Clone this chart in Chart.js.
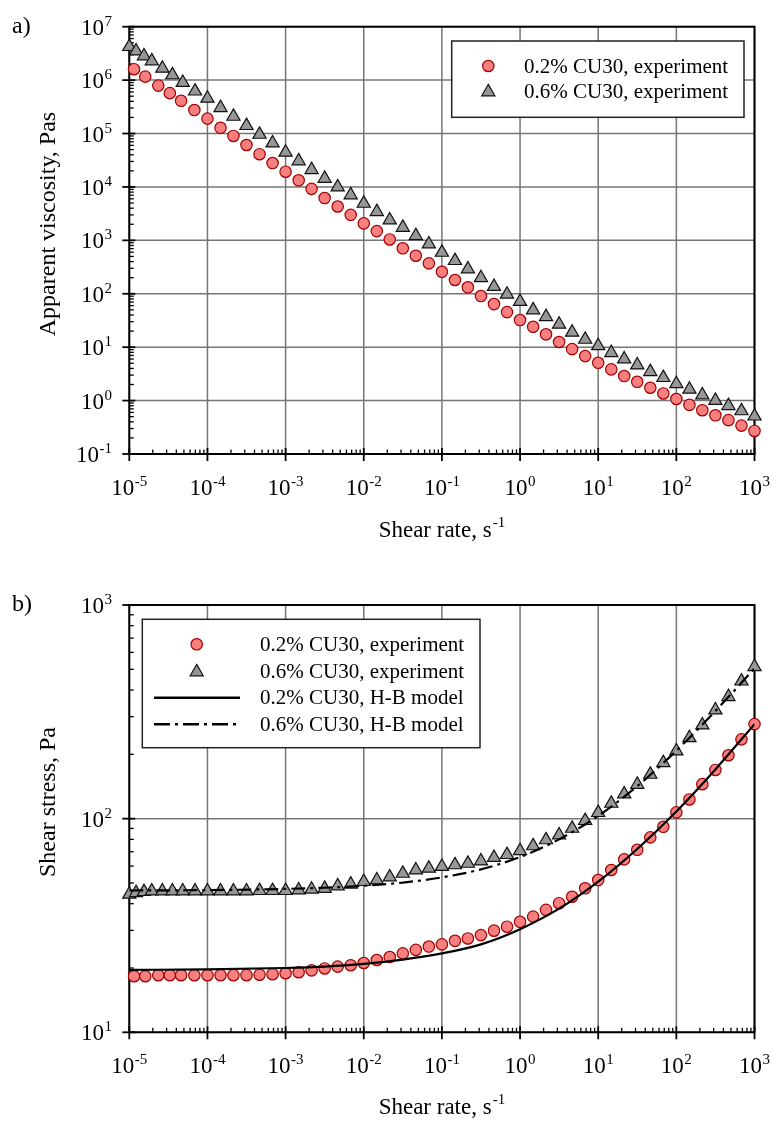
<!DOCTYPE html>
<html><head><meta charset="utf-8">
<script src="https://cdn.jsdelivr.net/npm/chart.js@4.4.1/dist/chart.umd.min.js"></script>
<style>html,body{margin:0;padding:0;background:#fff}
canvas{position:absolute;left:0;display:block}</style></head>
<body>
<canvas id="ca" width="773" height="560" style="top:0"></canvas>
<canvas id="cb" width="773" height="562" style="top:560px"></canvas>
<script>
// ---------- data ----------
const rateCircle = [1.15e-5,1.6e-5,2.35e-5,3.3e-5,4.6e-5,6.8e-5,
  1e-4,1.47e-4,2.15e-4,3.16e-4,4.64e-4,6.81e-4,
  1e-3,1.47e-3,2.15e-3,3.16e-3,4.64e-3,6.81e-3,
  1e-2,1.47e-2,2.15e-2,3.16e-2,4.64e-2,6.81e-2,
  1e-1,1.47e-1,2.15e-1,3.16e-1,4.64e-1,6.81e-1,
  1,1.47,2.15,3.16,4.64,6.81,
  10,14.7,21.5,31.6,46.4,68.1,
  100,147,215,316,464,681,
  1000];
const rateTriangle = [1e-5,1.22e-5,1.54e-5,1.94e-5,2.65e-5,3.56e-5,4.83e-5,6.94e-5,
  1e-4,1.47e-4,2.15e-4,3.16e-4,4.64e-4,6.81e-4,
  1e-3,1.47e-3,2.15e-3,3.16e-3,4.64e-3,6.81e-3,
  1e-2,1.47e-2,2.15e-2,3.16e-2,4.64e-2,6.81e-2,
  1e-1,1.47e-1,2.15e-1,3.16e-1,4.64e-1,6.81e-1,
  1,1.47,2.15,3.16,4.64,6.81,
  10,14.7,21.5,31.6,46.4,68.1,
  100,147,215,316,464,681,
  1000];
const viscCircle = [1.6e6,1.16e6,7.9e5,5.7e5,4.1e5,2.75e5,
  1.9e5,1.28e5,9.0e4,6.1e4,4.1e4,2.8e4,
  1.93e4,1.33e4,9.2e3,6.2e3,4.3e3,3.0e3,
  2.08e3,1.49e3,1.04e3,710,515,371,
  258,181,132,90.6,64.1,45.4,
  32.2,24.1,17.4,12.5,9.2,6.8,
  5.1,3.84,2.88,2.25,1.74,1.36,
  1.07,0.83,0.66,0.53,0.43,0.34,
  0.27];
const viscTriangle = [4.22e6,3.5e6,2.83e6,2.28e6,1.66e6,1.25e6,9.0e5,6.2e5,
  4.55e5,3.04e5,2.09e5,1.40e5,9.6e4,6.6e4,
  4.43e4,3.06e4,2.10e4,1.44e4,9.95e3,7.07e3,
  4.91e3,3.43e3,2.40e3,1.74e3,1.22e3,853,
  593,416,290,199,136,97.7,
  71.1,49.7,37.1,26.7,18.9,13.95,
  10.6,7.86,5.99,4.62,3.47,2.68,
  2.06,1.62,1.27,1.0,0.80,0.64,
  0.51];
const stressCircle = [18.3,18.3,18.5,18.5,18.5,18.5,
  18.5,18.5,18.5,18.5,18.6,18.7,
  18.9,19.1,19.5,19.9,20.3,20.6,
  21.1,21.8,22.5,23.4,24.3,25.2,
  25.8,26.8,27.5,28.5,29.9,31.2,
  32.9,34.8,37.4,40.2,43.1,47.2,
  51.6,57.5,64.5,71.5,81.7,91.6,
  107,123,145,169,198,235,
  277];
const stressTriangle = [44.2,45.0,45.5,45.8,45.8,45.8,45.8,45.8,
  45.8,45.8,45.8,45.8,46.0,46.0,
  46.0,46.3,46.7,47.1,48.4,49.3,
  50.7,51.6,53.3,55.4,57.4,58.5,
  59.6,60.7,61.7,63.3,65.7,67.8,
  70.7,74.5,79.5,83.8,90.0,97.8,
  106.6,117.8,130.3,144.5,161,182.7,
  207,239,274,322,372,440,
  514];
const hbRate = [1e-5,1e-4,1e-3,3.16e-3,1e-2,3.16e-2,0.1,0.316,1,3.16,10,31.6,100,316,1000];
const hb02 = [19.6,19.7,20.0,20.3,20.9,21.9,23.4,25.8,30.4,37.9,50.7,72.1,108,170,277];
const hb06 = [46.1,46.3,46.9,47.5,48.5,50.2,53.1,57.9,66.1,80,103,142,208,319,505];

const xTickExp = [-5,-4,-3,-2,-1,0,1,2,3];
const yTickExpA = [-1,0,1,2,3,4,5,6,7];
const yTickExpB = [1,2,3];

const seriesNames = ['0.2% CU30, experiment','0.6% CU30, experiment','0.2% CU30, H-B model','0.6% CU30, H-B model'];
const xTitle = 'Shear rate, s';
const xTitleSup = '-1';
const yTitleA = 'Apparent viscosity, Pas';
const yTitleB = 'Shear stress, Pa';

// ---------- styling ----------
const SERIF = '"Liberation Serif","Times New Roman",Times,serif';
const C_FILL = '#F77F7F', C_EDGE = '#A00000';
const T_FILL = '#979797', T_EDGE = '#111111';
const R_C = 5.7, R_T = 7.6;
const TICK_PX = 23, SUP_PX = 15;

function pts(xs, ys){ return xs.map((x,i)=>({x:x, y:ys[i]})); }

function drawCircle(ctx,x,y){ ctx.beginPath(); ctx.arc(x,y,R_C,0,Math.PI*2); ctx.fillStyle=C_FILL; ctx.fill(); ctx.lineWidth=1.2; ctx.strokeStyle=C_EDGE; ctx.stroke(); }
function drawTri(ctx,x,y){ const r=R_T; ctx.beginPath(); ctx.moveTo(x,y-r); ctx.lineTo(x+0.866*r,y+0.5*r); ctx.lineTo(x-0.866*r,y+0.5*r); ctx.closePath(); ctx.fillStyle=T_FILL; ctx.fill(); ctx.lineWidth=1.2; ctx.strokeStyle=T_EDGE; ctx.stroke(); }

function powLabel(ctx, exp, x, y, align){
  const b='10', s=String(exp);
  ctx.font=TICK_PX+'px '+SERIF; const wb=ctx.measureText(b).width;
  ctx.font=SUP_PX+'px '+SERIF; const ws=ctx.measureText(s).width;
  const tot=wb+ws+0.5;
  const x0 = align==='center' ? x-tot/2 : x-tot;
  ctx.fillStyle='#000'; ctx.textAlign='left'; ctx.textBaseline='alphabetic';
  ctx.font=TICK_PX+'px '+SERIF; ctx.fillText(b,x0,y);
  ctx.font=SUP_PX+'px '+SERIF; ctx.fillText(s,x0+wb+0.5,y-9);
}

const deco = {
  id:'deco',
  beforeDatasetsDraw(chart, args, o){
    const ctx=chart.ctx, a=chart.chartArea, X=chart.scales.x, Y=chart.scales.y;
    ctx.save();
    ctx.strokeStyle='#767676'; ctx.lineWidth=1.5;
    o.xExp.forEach(e=>{ const p=X.getPixelForValue(Math.pow(10,e)); ctx.beginPath(); ctx.moveTo(p,a.top); ctx.lineTo(p,a.bottom); ctx.stroke(); });
    o.yExp.forEach(e=>{ const p=Y.getPixelForValue(Math.pow(10,e)); ctx.beginPath(); ctx.moveTo(a.left,p); ctx.lineTo(a.right,p); ctx.stroke(); });
    ctx.strokeStyle='#000'; ctx.lineWidth=1.3;
    for(let i=0;i<o.xExp.length-1;i++){ for(let k=2;k<=9;k++){ const p=X.getPixelForValue(k*Math.pow(10,o.xExp[i])); ctx.beginPath(); ctx.moveTo(p,a.bottom); ctx.lineTo(p,a.bottom-4.5); ctx.stroke(); } }
    for(let i=0;i<o.yExp.length-1;i++){ for(let k=2;k<=9;k++){ const p=Y.getPixelForValue(k*Math.pow(10,o.yExp[i])); ctx.beginPath(); ctx.moveTo(a.left,p); ctx.lineTo(a.left+4.5,p); ctx.stroke(); } }
    ctx.lineWidth=1.8;
    o.xExp.forEach(e=>{ const p=X.getPixelForValue(Math.pow(10,e)); ctx.beginPath(); ctx.moveTo(p,a.bottom-6); ctx.lineTo(p,a.bottom+7); ctx.stroke(); });
    o.yExp.forEach(e=>{ const p=Y.getPixelForValue(Math.pow(10,e)); ctx.beginPath(); ctx.moveTo(a.left-7,p); ctx.lineTo(a.left+6,p); ctx.stroke(); });
    ctx.lineWidth=2; ctx.strokeStyle='#000';
    ctx.strokeRect(a.left,a.top,a.right-a.left,a.bottom-a.top);
    ctx.restore();
  },
  afterDatasetsDraw(chart, args, o){
    const ctx=chart.ctx, a=chart.chartArea, X=chart.scales.x, Y=chart.scales.y;
    ctx.save();
    o.xExp.forEach(e=>{ powLabel(ctx,e,X.getPixelForValue(Math.pow(10,e)),a.bottom+41,'center'); });
    o.yExp.forEach(e=>{ powLabel(ctx,e,112,Y.getPixelForValue(Math.pow(10,e))+8,'right'); });
    ctx.fillStyle='#000'; ctx.textBaseline='alphabetic'; ctx.textAlign='left';
    ctx.font='23px '+SERIF; const w1=ctx.measureText(xTitle).width;
    ctx.font='15px '+SERIF; const w2=ctx.measureText(xTitleSup).width;
    const cx=(a.left+a.right)/2, x0=cx-(w1+w2+1)/2;
    ctx.font='23px '+SERIF; ctx.fillText(xTitle,x0,o.xTitleY);
    ctx.font='15px '+SERIF; ctx.fillText(xTitleSup,x0+w1+1,o.xTitleY-10);
    ctx.save(); ctx.translate(55,o.yTitleY); ctx.rotate(-Math.PI/2);
    ctx.font='24px '+SERIF; ctx.textAlign='center'; ctx.fillText(o.yTitle,0,0); ctx.restore();
    ctx.font='24px '+SERIF; ctx.textAlign='left'; ctx.fillText(o.panel,12,o.panelY);
    const L=o.legend, b=L.box;
    ctx.fillStyle='#fff'; ctx.fillRect(b[0],b[1],b[2]-b[0],b[3]-b[1]);
    ctx.strokeStyle='#222'; ctx.lineWidth=1.5; ctx.strokeRect(b[0],b[1],b[2]-b[0],b[3]-b[1]);
    L.rows.forEach(r=>{
      if(r.type==='circle') drawCircle(ctx,L.markerX,r.y);
      else if(r.type==='tri') drawTri(ctx,L.markerX,r.y+1);
      else { ctx.beginPath(); ctx.strokeStyle='#000'; ctx.lineWidth=2.5; ctx.setLineDash(r.type==='dashdot'?[16,5,3,5]:[]); ctx.moveTo(L.lineX[0],r.y); ctx.lineTo(L.lineX[1],r.y); ctx.stroke(); ctx.setLineDash([]); }
      ctx.fillStyle='#000'; ctx.font='21px '+SERIF; ctx.textAlign='left'; ctx.textBaseline='middle';
      ctx.fillText(r.text,L.textX,r.y+1);
    });
    ctx.restore();
  }
};

function scaleOpts(min,max,fit){
  return {type:'logarithmic',min:min,max:max,grid:{display:false},border:{display:false},ticks:{display:false},afterFit:fit};
}

const circleDS = (data)=>({label:seriesNames[0],data:data,showLine:false,pointStyle:'circle',pointRadius:R_C,pointBackgroundColor:C_FILL,pointBorderColor:C_EDGE,pointBorderWidth:1.2,clip:false,order:2});
const triDS = (data)=>({label:seriesNames[1],data:data,showLine:false,pointStyle:'triangle',pointRadius:R_T,pointBackgroundColor:T_FILL,pointBorderColor:T_EDGE,pointBorderWidth:1.2,clip:false,order:1});

new Chart(document.getElementById('ca'),{
  type:'scatter',
  data:{datasets:[circleDS(pts(rateCircle,viscCircle)),triDS(pts(rateTriangle,viscTriangle))]},
  options:{responsive:false,animation:false,events:[],
    layout:{padding:{top:26.7,right:18.5,left:0,bottom:0}},
    scales:{x:scaleOpts(1e-5,1e3,s=>{s.height=106;}),y:scaleOpts(0.1,1e7,s=>{s.width=129.3;})},
    plugins:{legend:{display:false},tooltip:{enabled:false},
      deco:{xExp:xTickExp,yExp:yTickExpA,xTitleY:537,yTitle:yTitleA,yTitleY:224,panel:'a)',panelY:33,
        legend:{box:[451.7,41,744,117.3],markerX:488.3,textX:524,rows:[{type:'circle',y:66,text:seriesNames[0]},{type:'tri',y:91,text:seriesNames[1]}]}}}},
  plugins:[deco]
});

new Chart(document.getElementById('cb'),{
  type:'scatter',
  data:{datasets:[
    {label:seriesNames[2],data:pts(hbRate,hb02),showLine:true,pointRadius:0,borderColor:'#000',borderWidth:2.2,cubicInterpolationMode:'monotone',order:0},
    {label:seriesNames[3],data:pts(hbRate,hb06),showLine:true,pointRadius:0,borderColor:'#000',borderWidth:2.2,borderDash:[14,5,3,5],cubicInterpolationMode:'monotone',order:0},
    circleDS(pts(rateCircle,stressCircle)),triDS(pts(rateTriangle,stressTriangle))]},
  options:{responsive:false,animation:false,events:[],
    layout:{padding:{top:45,right:18.5,left:0,bottom:0}},
    scales:{x:scaleOpts(1e-5,1e3,s=>{s.height=89.7;}),y:scaleOpts(10,1000,s=>{s.width=129.3;})},
    plugins:{legend:{display:false},tooltip:{enabled:false},
      deco:{xExp:xTickExp,yExp:yTickExpB,xTitleY:554,yTitle:yTitleB,yTitleY:242,panel:'b)',panelY:51,
        legend:{box:[142.3,59.3,480,187.7],markerX:196.7,lineX:[154,240],textX:260,rows:[{type:'circle',y:84.3,text:seriesNames[0]},{type:'tri',y:111,text:seriesNames[1]},{type:'solid',y:137.7,text:seriesNames[2]},{type:'dashdot',y:164.3,text:seriesNames[3]}]}}}},
  plugins:[deco]
});
</script></body></html>
